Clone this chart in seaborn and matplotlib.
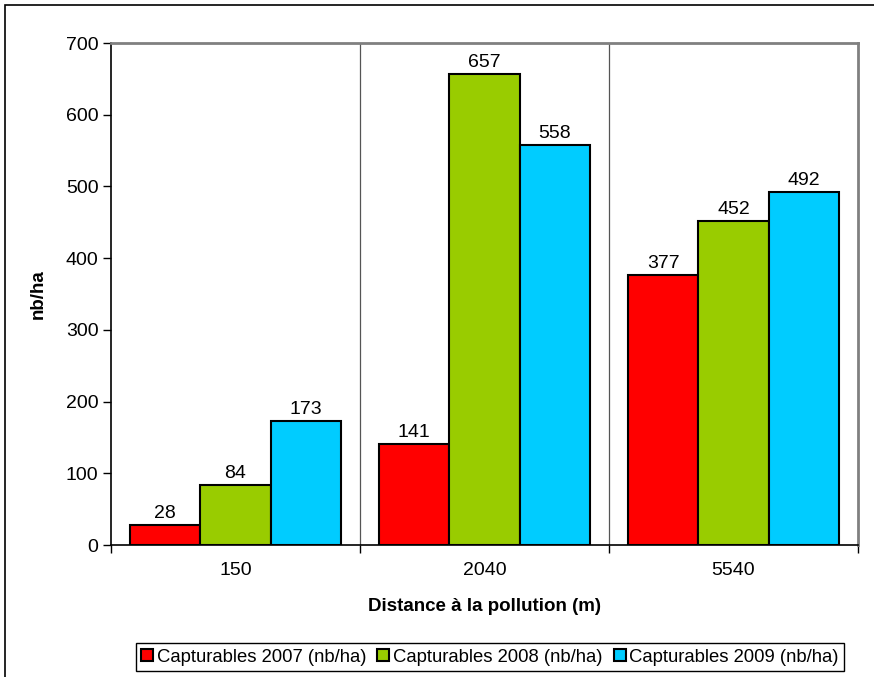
import matplotlib
matplotlib.use("Agg")
import matplotlib.pyplot as plt
import seaborn as sns
import pandas as pd
from matplotlib.patches import Rectangle
from matplotlib.ticker import FixedLocator

distances = ["150", "2040", "5540"]
series = ["Capturables 2007 (nb/ha)", "Capturables 2008 (nb/ha)", "Capturables 2009 (nb/ha)"]
values_2007 = [28, 141, 377]
values_2008 = [84, 657, 452]
values_2009 = [173, 558, 492]
colors = ["#FF0000", "#99CC00", "#00CCFF"]

rows = []
for name, vals in zip(series, [values_2007, values_2008, values_2009]):
    for d, v in zip(distances, vals):
        rows.append({"Distance": d, "Série": name, "nb/ha": v})
df = pd.DataFrame(rows)

sns.set_theme(style="white")
plt.rcParams["font.family"] = ["Liberation Sans", "DejaVu Sans"]
plt.rcParams["text.color"] = "black"
plt.rcParams["axes.labelcolor"] = "black"
plt.rcParams["xtick.color"] = "black"
plt.rcParams["ytick.color"] = "black"

FS = 14

fig = plt.figure(figsize=(8.74, 6.77), dpi=100)
ax = fig.add_axes([111 / 874, 1 - 545 / 677, (858 - 111) / 874, (545 - 43) / 677])

sns.barplot(data=df, x="Distance", y="nb/ha", hue="Série", order=distances,
            hue_order=series, palette=colors, width=0.845, edgecolor="black",
            linewidth=1.5, ax=ax, saturation=1, legend=True)

for cont in ax.containers:
    ax.bar_label(cont, labels=[f"{int(b.get_height())}" for b in cont],
                 padding=2, fontsize=FS, color="black")

ax.set_xlim(-0.5, 2.5)
ax.set_ylim(0, 700)
ax.set_yticks(range(0, 701, 100))
ax.tick_params(axis="y", which="major", direction="out", length=6, width=1,
               color="black", labelsize=FS, pad=3, left=True)
ax.tick_params(axis="x", which="major", length=0, labelsize=FS, pad=12)
ax.xaxis.set_minor_locator(FixedLocator([-0.5, 0.5, 1.5, 2.5]))
ax.tick_params(axis="x", which="minor", direction="out", length=6, width=1,
               color="black", bottom=True)
for xb in [0.5, 1.5]:
    ax.axvline(xb, color="#555555", linewidth=0.9, zorder=0)

ax.set_xlabel("Distance à la pollution (m)", fontsize=13.5, fontweight="bold", labelpad=14)
ax.set_ylabel("nb/ha", fontsize=13.5, fontweight="bold", labelpad=14)

for side in ["left", "bottom"]:
    ax.spines[side].set_color("black")
    ax.spines[side].set_linewidth(1.2)
for side in ["top", "right"]:
    ax.spines[side].set_color("#808080")
    ax.spines[side].set_linewidth(2)

leg = ax.get_legend()
handles = leg.legend_handles
leg.remove()
fig.legend(handles, series, loc="center", bbox_to_anchor=(490 / 874, 1 - 657 / 677),
           ncol=3, frameon=True, fancybox=False, edgecolor="black", fontsize=13.3,
           handlelength=0.65, handleheight=0.65, handletextpad=0.2,
           columnspacing=0.6, borderpad=0.3, framealpha=1)

fig.patches.append(Rectangle((5 / 874, -0.1), 1.2, 1 - 5 / 677 + 0.1,
                             transform=fig.transFigure, fill=False,
                             edgecolor="black", linewidth=1.2))

fig.savefig("out.png", dpi=100)
